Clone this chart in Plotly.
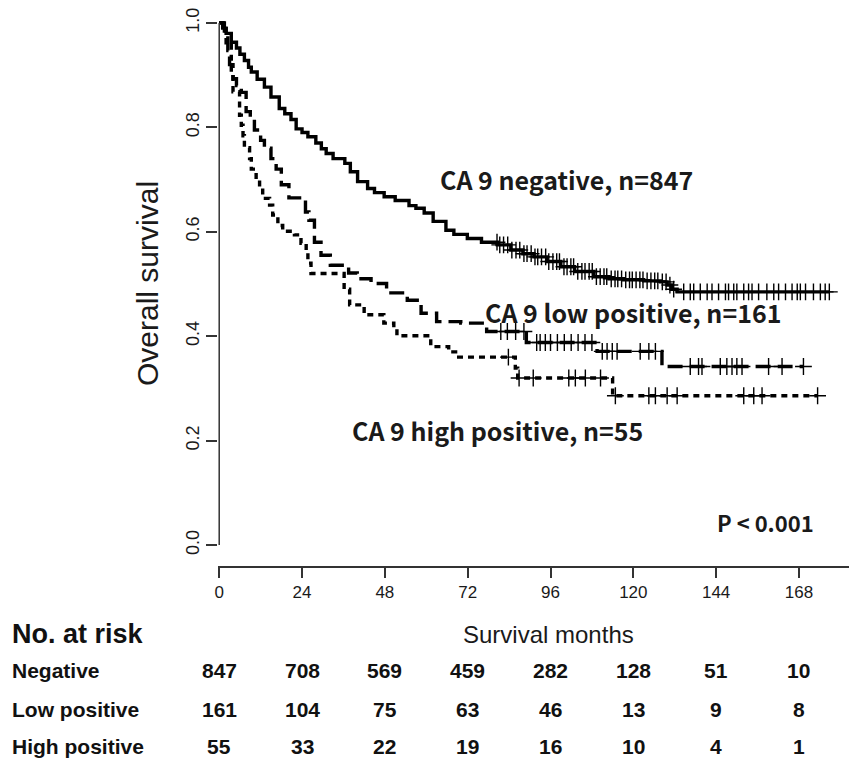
import numpy as np
import plotly.graph_objects as go

# ---------------- data ----------------
month_ticks = [0, 24, 48, 72, 96, 120, 144, 168]
surv_ticks = [0.0, 0.2, 0.4, 0.6, 0.8, 1.0]
surv_tick_labels = ["0.0", "0.2", "0.4", "0.6", "0.8", "1.0"]

# CA 9 negative (n=847): step times (months) and survival after each step
neg_t = [0, 1, 2, 3.5, 5, 6, 7.3, 8.5, 9.3, 11, 13.1, 15, 17.4, 19, 20.8, 22.3, 24, 25.7,
         28, 29.6, 31, 33, 36.4, 38, 40.1, 43, 45, 47.8, 51, 55, 57, 59.4, 62, 65.7, 68,
         71.9, 76, 80.6, 84.5, 88, 91.2, 95, 99, 103, 108.6, 113, 117.2, 123, 127.9,
         129.8, 131, 132.7]
neg_s = [1.0, 0.99, 0.98, 0.963, 0.952, 0.94, 0.928, 0.915, 0.906, 0.892, 0.877, 0.858,
         0.836, 0.826, 0.815, 0.797, 0.79, 0.782, 0.77, 0.759, 0.75, 0.74, 0.731, 0.715,
         0.696, 0.683, 0.675, 0.667, 0.66, 0.65, 0.645, 0.636, 0.62, 0.603, 0.595, 0.587,
         0.58, 0.575, 0.565, 0.558, 0.552, 0.543, 0.533, 0.524, 0.514, 0.51, 0.508, 0.506,
         0.504, 0.498, 0.49, 0.485]
neg_cens = [80.5, 81.3, 82.4, 83.6, 84.8, 86, 87.1, 88.3, 89.2, 90.4, 91.5, 92.3, 93.4,
            94.6, 95.5, 96.7, 97.8, 98.6, 99.9, 100.8, 101.9, 102.7, 103.9, 105.1, 106,
            107.2, 108.1, 109.3, 110.4, 111.5, 112.3, 113.6, 114.7, 115.5, 116.6, 117.8,
            118.9, 119.7, 120.8, 121.9, 122.8, 124, 125.1, 126.2, 127.1, 128.4, 129.5,
            130.6, 131.7, 134.6, 136.5, 137.5, 139.4, 141.4, 142.8, 144.7, 146.7, 147.6,
            149.1, 150, 152, 153.4, 154.4, 156.3, 158.7, 160.7, 162.1, 164.1, 166, 167.5,
            168.4, 169.9, 172.2, 174.2, 175.6, 176.8]

# CA 9 low positive (n=161)
low_t = [0, 1.5, 2.5, 3, 4, 5, 6.4, 7.8, 9, 10.2, 12, 13.1, 15, 16.5, 18, 20.2, 25, 26,
         27.6, 29.5, 32.2, 37.5, 40, 44, 48.5, 54.5, 58.5, 63, 70, 77.5, 89, 109.5, 128.3]
low_s = [1.0, 0.975, 0.947, 0.92, 0.893, 0.88, 0.867, 0.83, 0.817, 0.795, 0.775, 0.76,
         0.74, 0.72, 0.69, 0.665, 0.638, 0.622, 0.58, 0.555, 0.536, 0.521, 0.51, 0.501,
         0.483, 0.469, 0.444, 0.428, 0.425, 0.409, 0.388, 0.371, 0.342]
low_cens = [81.6, 83.5, 85.9, 88.3, 92, 93, 94.5, 96, 98, 100, 102, 104, 106, 108,
            111, 112.4, 113.9, 115.3, 122, 124.5, 126.4, 136.5, 138.9, 139.9, 145.2,
            147.1, 148.6, 150, 151.5, 159.2, 163.1, 169.3]

# CA 9 high positive (n=55)
high_t = [0, 2, 3.5, 4, 5.9, 6.4, 6.9, 7.3, 8.8, 9.3, 10.7, 11.7, 12.6, 14.6, 15.5, 17,
          18.4, 21.8, 23.7, 25.2, 25.7, 26.6, 36.2, 37.8, 42, 47.7, 50.6, 51.5, 61.3,
          66.5, 68.5, 85.8, 86.5, 114]
high_s = [1.0, 0.962, 0.905, 0.868, 0.823, 0.804, 0.784, 0.761, 0.74, 0.72, 0.701, 0.685,
          0.664, 0.651, 0.632, 0.612, 0.601, 0.594, 0.578, 0.559, 0.54, 0.52, 0.49, 0.46,
          0.441, 0.425, 0.416, 0.401, 0.38, 0.37, 0.36, 0.339, 0.32, 0.286]
high_cens = [83.8, 86.9, 91, 101.3, 103.2, 106.1, 110.5, 114.8, 124.5, 126.4, 129.8,
             132.7, 152, 154.9, 157.3, 173.4]

risk_groups = ["Negative", "Low positive", "High positive"]
risk_neg = [847, 708, 569, 459, 282, 128, 51, 10]
risk_low = [161, 104, 75, 63, 46, 13, 9, 8]
risk_high = [55, 33, 22, 19, 16, 10, 4, 1]

curve_labels = ["CA 9 negative, n=847", "CA 9 low positive, n=161",
                "CA 9 high positive, n=55"]
p_label = "P &lt; 0.001"

# ---------------- figure ----------------
W, H = 849, 760
ML, MR, MT, MB = 218, 0, 2, 194
XMIN, XMAX = -0.35, 182.5
YMIN, YMAX = -0.04, 1.04
plot_h = H - MT - MB
plot_w = W - ML - MR


def ypaper(py):
    """pixel row -> paper coordinate (for annotations outside the plot)"""
    return (H - MB - py) / plot_h


def xpaper(px):
    return (px - ML) / plot_w


fig = go.Figure()

curves = [
    (neg_t, neg_s, neg_cens, "solid"),
    (low_t, low_s, low_cens, "15px,7px"),
    (high_t, high_s, high_cens, "6px,5px"),
]
for t, s, cens, dash in curves:
    t = np.asarray(t, float)
    s = np.asarray(s, float)
    c = np.asarray(cens, float)
    t_end = c.max()
    xs = np.append(t, t_end)
    ys = np.append(s, s[-1])
    fig.add_trace(go.Scatter(x=xs, y=ys, mode="lines", line_shape="hv",
                             line=dict(color="black", width=3.4, dash=dash),
                             hoverinfo="skip", showlegend=False))
    idx = np.searchsorted(t, c, side="right") - 1
    fig.add_trace(go.Scatter(x=c, y=s[idx], mode="markers",
                             marker=dict(symbol="cross-thin", size=12,
                                         line=dict(color="black", width=1.4)),
                             hoverinfo="skip", showlegend=False))

# y axis line only from 0 to 1 (R style)
fig.add_shape(type="line", xref="x", yref="y", x0=0, x1=0, y0=0, y1=1,
              line=dict(color="#333333", width=1.5))

ann_font = dict(family="Noto Sans CJK KR", size=25, color="#1a1a1a")
annotations = [
    dict(x=63.4, y=0.701, text="<b>" + curve_labels[0] + "</b>", xanchor="left"),
    dict(x=76.5, y=0.446, text="<b>" + curve_labels[1] + "</b>", xanchor="left"),
    dict(x=38.0, y=0.221, text="<b>" + curve_labels[2] + "</b>", xanchor="left"),
]
for a in annotations:
    fig.add_annotation(xref="x", yref="y", yanchor="middle", showarrow=False,
                       font=ann_font, **a)
fig.add_annotation(xref="x", yref="y", x=172.8, y=0.045, xanchor="right",
                   yanchor="middle", showarrow=False, text="<b>" + p_label + "</b>",
                   font=dict(family="Noto Sans CJK KR", size=22, color="#1a1a1a"))

# y title
fig.add_annotation(xref="paper", yref="y", x=xpaper(147), y=0.5,
                   text="Overall survival", textangle=-90, showarrow=False,
                   xanchor="center", yanchor="middle",
                   font=dict(family="Liberation Sans", size=30, color="#1a1a1a"))

# No. at risk table
tbl_font = dict(family="Liberation Sans", size=21, color="#111111")
fig.add_annotation(xref="paper", yref="paper", x=xpaper(10),
                   y=ypaper(634), text="<b>No. at risk</b>", showarrow=False,
                   xanchor="left", yanchor="middle",
                   font=dict(family="Liberation Sans", size=27, color="#111111"))
fig.add_annotation(xref="paper", yref="paper", x=xpaper(548),
                   y=ypaper(634), text="Survival months", showarrow=False,
                   xanchor="center", yanchor="middle",
                   font=dict(family="Liberation Sans", size=24, color="#1a1a1a"))
row_y = [670, 709, 747]
for name, vals, ry in zip(risk_groups, [risk_neg, risk_low, risk_high], row_y):
    fig.add_annotation(xref="paper", yref="paper", x=xpaper(10),
                       y=ypaper(ry), text="<b>" + name + "</b>", showarrow=False,
                       xanchor="left", yanchor="middle", font=tbl_font)
    for m, v in zip(month_ticks, vals):
        fig.add_annotation(xref="x", yref="paper", x=m, y=ypaper(ry),
                           text="<b>" + str(v) + "</b>", showarrow=False,
                           xanchor="center", yanchor="middle", font=tbl_font)

fig.update_layout(
    width=W, height=H,
    margin=dict(l=ML, r=MR, t=MT, b=MB, pad=0),
    paper_bgcolor="white", plot_bgcolor="white",
    showlegend=False,
    xaxis=dict(range=[XMIN, XMAX], tickvals=month_ticks,
               ticktext=[str(m) for m in month_ticks],
               showline=True, linecolor="#333333", linewidth=1.5,
               ticks="outside", ticklen=10, tickwidth=1.5, tickcolor="#333333",
               tickfont=dict(family="Liberation Sans", size=17, color="#1a1a1a"),
               showgrid=False, zeroline=False),
    yaxis=dict(range=[YMIN, YMAX], tickvals=surv_ticks, ticktext=surv_tick_labels,
               tickangle=-90, showline=False,
               ticks="outside", ticklen=11, tickwidth=1.5, tickcolor="#333333",
               tickfont=dict(family="Liberation Sans", size=18, color="#1a1a1a"),
               showgrid=False, zeroline=False),
)

fig.write_html("out.html",
               config={"displayModeBar": False},
               post_script="document.body.style.margin='0px';"
                           "document.body.style.overflow='hidden';")
